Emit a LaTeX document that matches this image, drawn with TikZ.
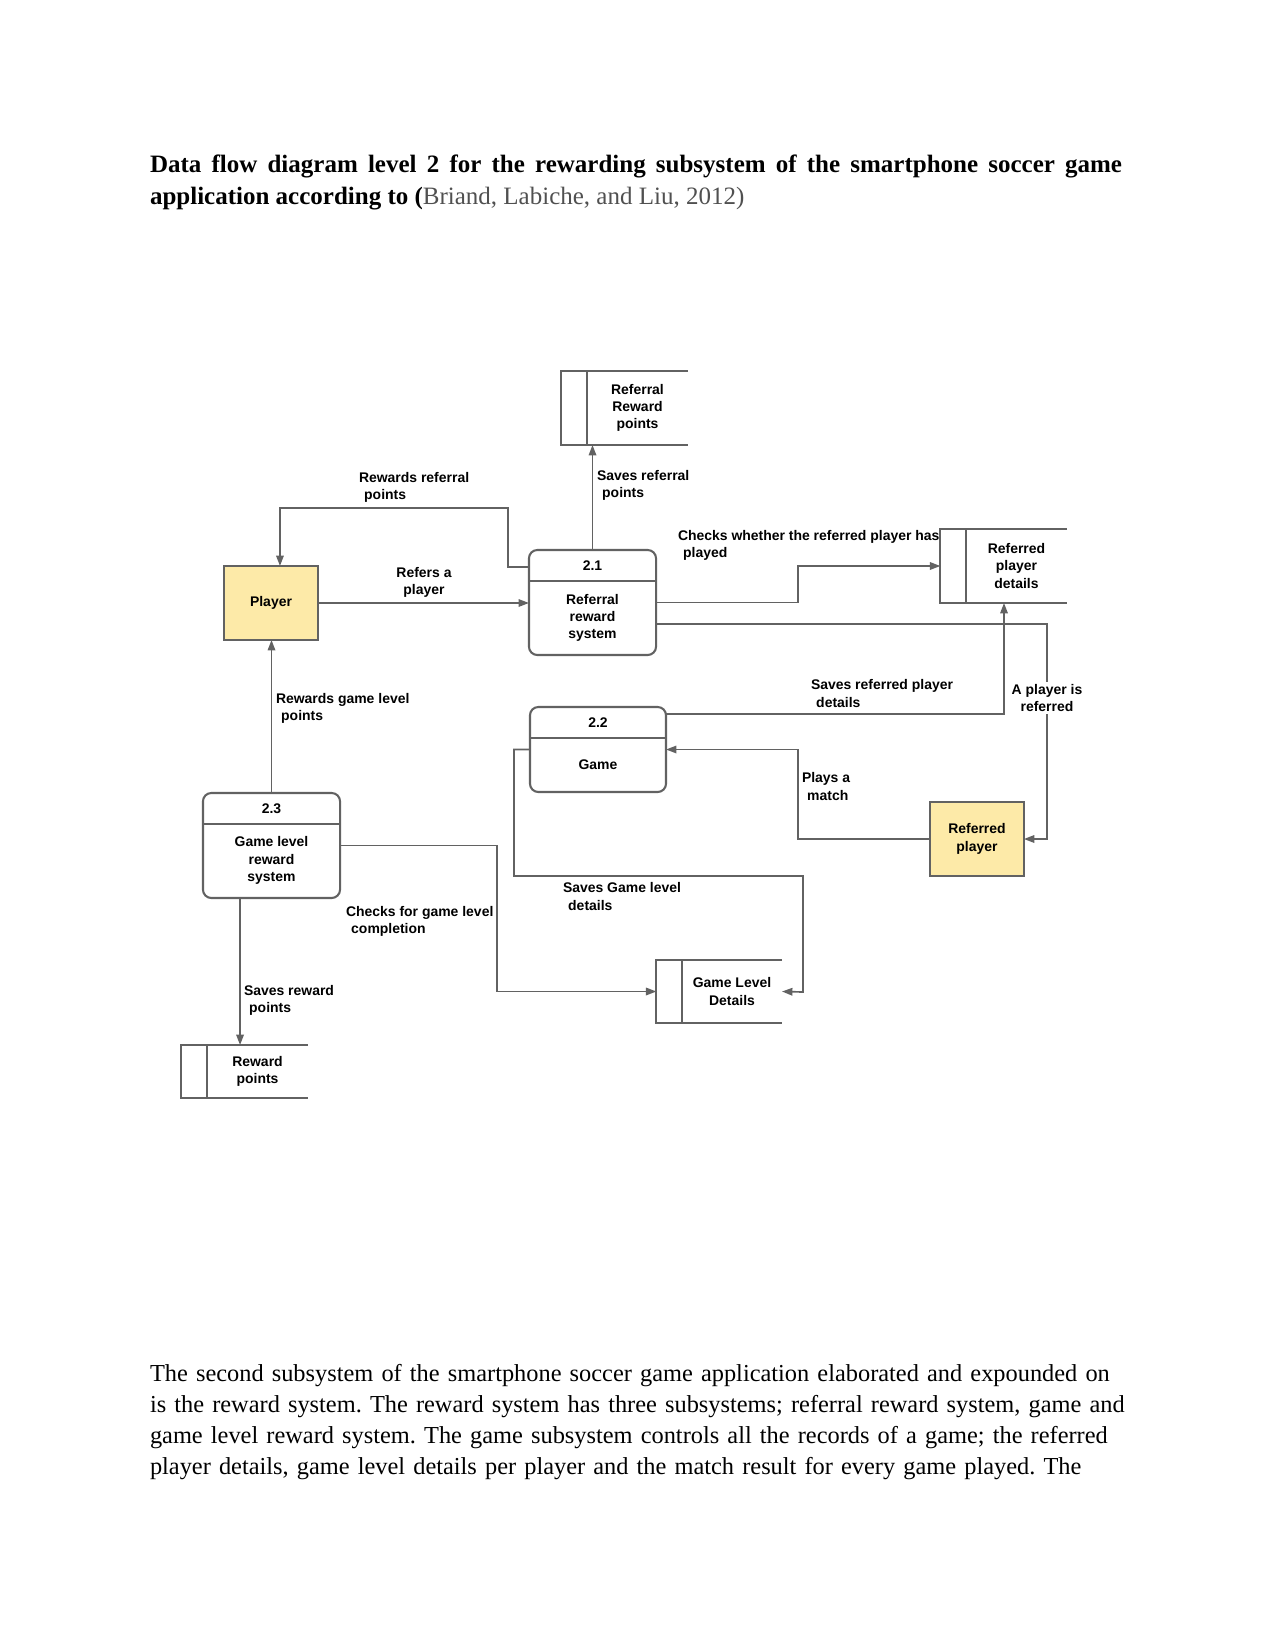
\documentclass[tikz,border=0pt]{standalone}
\usepackage{fontspec}
\setmainfont{Liberation Serif}
\newfontfamily\dfdfont{Liberation Sans}
\usetikzlibrary{arrows.meta}
\definecolor{linegray}{RGB}{98,98,98}
\definecolor{termfill}{RGB}{253,234,168}
\definecolor{citegray}{RGB}{80,80,80}
\frenchspacing

\begin{document}
\begin{tikzpicture}[
      x=0.48pt, y=-0.48pt,
      every node/.style={inner sep=0pt, outer sep=0pt},
      dfd/.style={font=\dfdfont\bfseries\fontsize{6.7}{8.3}\selectfont},
      lbl/.style={dfd, align=left, anchor=west},
      clbl/.style={dfd, align=center},
      proc/.style={draw=linegray, line width=1pt, rounded corners=4pt},
      term/.style={dfd, draw=linegray, line width=1pt, fill=termfill, minimum width=45pt, minimum height=35.5pt, align=center},
      store/.style={dfd, minimum width=48.5pt, minimum height=35.5pt, align=center},
      line/.style={draw=linegray, line width=1pt},
      flow/.style={draw=linegray, line width=0.8pt, -{Triangle[length=5pt,width=3.6pt]}}
    ]
      \useasboundingbox (0,0) rectangle (1275,1651);
      \node[anchor=base west, text width=466.6pt, align=justify, font=\fontsize{12}{14.9}\selectfont] (title) at (150,173)
        {\textbf{Data flow diagram level 2 for the rewarding subsystem of the smartphone soccer game\linebreak application according to (}\textcolor{citegray}{Briand, Labiche, and Liu, 2012)}};

      \node[term] (player) at (271,603) {Player};
      \node[term] (refplayer) at (977,839) {Referred\\player};
      \node[proc, minimum width=61pt, minimum height=50.4pt] (p21) at (592.5,602.5) {};
      \node[proc, minimum width=65.3pt, minimum height=40.8pt] (p22) at (598,749.5) {};
      \node[proc, minimum width=65.8pt, minimum height=50.4pt] (p23) at (271.5,845.5) {};
      \node[store] (rrp) at (637.5,408) {Referral\\Reward\\points};
      \node[store] (rpd) at (1016.5,566) {Referred\\player\\details};
      \node[store, minimum width=48pt, minimum height=30.2pt] (gld) at (732,991.5) {Game Level\\Details};
      \node[store, minimum height=25.4pt] (rwp) at (257.5,1071.5) {Reward\\points};

      \foreach \p in {p21,p22,p23}
        \draw[line] ([yshift=-14.8pt]\p.north west) -- ([yshift=-14.8pt]\p.north east);
      \foreach \s in {rrp,rpd,gld,rwp}
        \draw[line] (\s.north east) -- ([xshift=-12.3pt]\s.north west) -- ([xshift=-12.3pt]\s.south west) -- (\s.south east)
          (\s.north west) -- (\s.south west);

      \node[clbl] (p21n) at ([yshift=-7.4pt]p21.north) {2.1};
      \node[clbl] (p21b) at ([yshift=17.8pt]p21.south) {Referral\\reward\\system};
      \node[clbl] (p22n) at ([yshift=-7.4pt]p22.north) {2.2};
      \node[clbl] (p22b) at ([yshift=13pt]p22.south) {Game};
      \node[clbl] (p23n) at ([yshift=-7.4pt]p23.north) {2.3};
      \node[clbl] (p23b) at ([yshift=18pt]p23.south) {Game level\\reward\\system};

      \draw[flow] (p21.north) -- (p21.north |- rrp.south);
      \draw[flow] ([yshift=-8.2pt]p21.north west) -| (508,508) -| ([xshift=4.3pt]player.north);
      \draw[flow] (player.east) -- (player.east -| p21.west);
      \draw[flow] (p21.east) -| (798,566) -- ([xshift=-12.3pt]rpd.west);
      \draw[flow] ([yshift=-10.3pt]p21.east) -| ([xshift=11pt]refplayer.east) -- (refplayer.east);
      \draw[flow] ([yshift=-3.4pt]p22.north east) -| ([xshift=-6pt]rpd.south);
      \draw[flow] (refplayer.west) -| ([xshift=63.4pt]p22.east) -- (p22.east);
      \draw[flow] (p22.west) -| (514,876) -| (803,992) -- (gld.east);
      \draw[flow] (p23.east) -| (497,991.5) -- ([xshift=-12.3pt]gld.west);
      \draw[flow] (p23.north) -- (p23.north |- player.south);
      \draw[flow] ([xshift=-15.1pt]p23.south) -- ([xshift=-15.1pt]p23.south |- rwp.north);

      \node[lbl] (l1) at (597,485.5) {Saves referral\\\hspace*{2.5pt}points};
      \node[lbl] (l2) at (359,487.5) {Rewards referral\\\hspace*{2.5pt}points};
      \node[clbl] (l3) at (424,582.5) {Refers a\\player};
      \node[lbl] (l4) at (678,545.5) {Checks whether the referred player has\\\hspace*{2.5pt}played};
      \node[lbl] (l5) at (811,693.5) {Saves referred player\\\hspace*{2.5pt}details};
      \node[clbl, fill=white, inner sep=1pt] (l6) at (1047,698) {A player is\\referred};
      \node[lbl] (l7) at (802,786.5) {Plays a\\\hspace*{2.5pt}match};
      \node[lbl] (l8) at (563,896.5) {Saves Game level\\\hspace*{2.5pt}details};
      \node[lbl] (l9) at (346,921.5) {Checks for game level\\\hspace*{2.5pt}completion};
      \node[lbl] (l10) at (276,708.5) {Rewards game level\\\hspace*{2.5pt}points};
      \node[lbl] (l11) at (244,1000.5) {Saves reward\\\hspace*{2.5pt}points};

      \node[anchor=base west, text width=500pt, align=left, font=\fontsize{11.7}{14.9}\selectfont] (para) at (150,1381)
        {The second subsystem of the smartphone soccer game application elaborated and expounded on\\
         is the reward system. The reward system has three subsystems; referral reward system, game and\\
         game level reward system. The game subsystem controls all the records of a game; the referred\\
         player details, game level details per player and the match result for every game played. The};
    \end{tikzpicture}
\end{document}
